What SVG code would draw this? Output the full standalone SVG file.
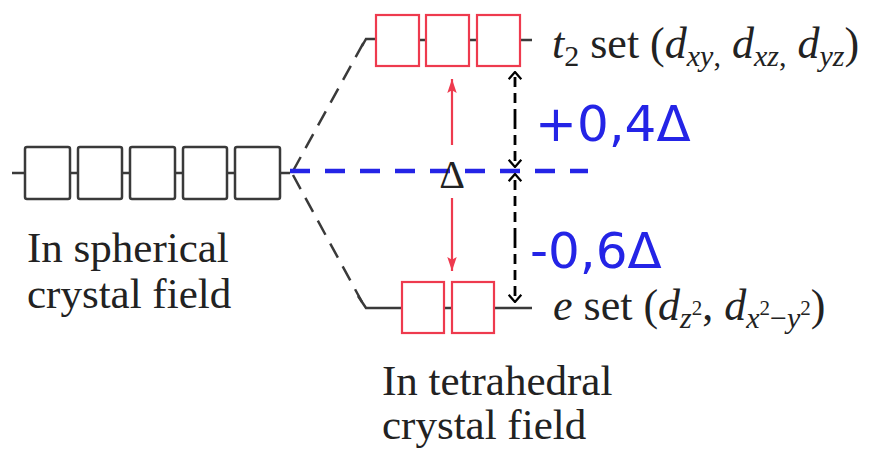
<svg xmlns="http://www.w3.org/2000/svg" width="876" height="459" viewBox="0 0 876 459">
<style>
.blk{fill:#fff;stroke:#3a3a3a;stroke-width:2.5}
.red{fill:#fff;stroke:#ee3a4e;stroke-width:2.2}
.ln{fill:none;stroke:#3a3a3a;stroke-width:2.5}
.dsh{fill:none;stroke:#3a3a3a;stroke-width:2.5;stroke-dasharray:16 10}
.lab{font-family:"Liberation Serif","Times New Roman",serif;font-size:44px;fill:#222}
.big{font-family:"Liberation Serif","Times New Roman",serif;font-size:43px;fill:#222}
.hand{font-family:"DejaVu Sans",sans-serif;font-size:50px;fill:#2424e6}
.i{font-style:italic}
.sb{font-size:30px}
.sp{font-size:21px}
</style>
<defs>
<marker id="redhead" viewBox="0 0 10 14" refX="10" refY="7" markerWidth="14" markerHeight="11" markerUnits="userSpaceOnUse" orient="auto" preserveAspectRatio="none">
<path d="M0,1 L10,7 L0,13 L2,7 Z" fill="#ee3a4e"/>
</marker>
<marker id="chev" viewBox="0 0 10 16" refX="9" refY="8" markerWidth="9" markerHeight="16" markerUnits="userSpaceOnUse" orient="auto">
<path d="M1,1 L9,8 L1,15" fill="none" stroke="#000" stroke-width="2.5"/>
</marker>
</defs>

<g id="connectors">
<path class="dsh" d="M293,171 L365,40"/>
<path class="ln" d="M362,46 L366,39 L376,39"/>
<path class="dsh" d="M293,175 L362,302"/>
<path class="ln" d="M358,296 L366,308 L402,308"/>
<line x1="290" y1="171" x2="588" y2="171" stroke="#2424e6" stroke-width="4.5" stroke-dasharray="20 15"/>
<line x1="452" y1="145" x2="452" y2="79" stroke="#ee3a4e" stroke-width="2.2" marker-end="url(#redhead)"/>
<line x1="452" y1="198" x2="452" y2="271" stroke="#ee3a4e" stroke-width="2.2" marker-end="url(#redhead)"/>
<line x1="515" y1="119" x2="515" y2="72" stroke="#000" stroke-width="2.8" stroke-dasharray="10 6" marker-end="url(#chev)"/>
<line x1="515" y1="119" x2="515" y2="167" stroke="#000" stroke-width="2.8" stroke-dasharray="10 6" marker-end="url(#chev)"/>
<line x1="515" y1="238" x2="515" y2="174" stroke="#000" stroke-width="2.8" stroke-dasharray="10 6" marker-end="url(#chev)"/>
<line x1="515" y1="238" x2="515" y2="302" stroke="#000" stroke-width="2.8" stroke-dasharray="10 6" marker-end="url(#chev)"/>
</g>

<g id="spherical">
<path class="ln" d="M12,173 H290"/>
<rect class="blk" x="25" y="147" width="45" height="52" rx="2"/>
<rect class="blk" x="78" y="147" width="44" height="52" rx="2"/>
<rect class="blk" x="130" y="147" width="45" height="52" rx="2"/>
<rect class="blk" x="183" y="147" width="44" height="52" rx="2"/>
<rect class="blk" x="235" y="147" width="45" height="52" rx="2"/>
<text class="big" x="27" y="262">In spherical</text>
<text class="big" x="27" y="308">crystal field</text>
</g>

<g id="t2">
<path class="ln" d="M376,40 H532"/>
<rect class="red" x="376" y="15" width="43" height="51"/>
<rect class="red" x="426" y="15" width="43" height="51"/>
<rect class="red" x="477" y="15" width="43" height="51"/>
<text class="lab" x="552" y="58"><tspan class="i">t</tspan><tspan class="sb" dy="8">2</tspan><tspan dy="-8"> set (</tspan><tspan class="i">d</tspan><tspan class="i sb" dy="8">xy</tspan><tspan class="sb">,</tspan><tspan dy="-8"> </tspan><tspan class="i">d</tspan><tspan class="i sb" dy="8">xz</tspan><tspan class="sb">,</tspan><tspan dy="-8"> </tspan><tspan class="i">d</tspan><tspan class="i sb" dy="8">yz</tspan><tspan dy="-8">)</tspan></text>
</g>

<g id="e">
<path class="ln" d="M402,308 H532"/>
<rect class="red" x="402" y="282" width="42" height="51"/>
<rect class="red" x="452" y="282" width="42" height="51"/>
<text class="lab" x="553" y="320"><tspan class="i">e</tspan><tspan> set (</tspan><tspan class="i">d</tspan><tspan class="i sb" dy="8">z</tspan><tspan class="sp" dy="-13">2</tspan><tspan dy="5">, </tspan><tspan class="i">d</tspan><tspan class="i sb" dy="8">x</tspan><tspan class="sp" dy="-13">2</tspan><tspan class="sb" dy="13">−</tspan><tspan class="i sb">y</tspan><tspan class="sp" dy="-13">2</tspan><tspan dy="5">)</tspan></text>
</g>

<g id="delta">
<text x="452" y="188" text-anchor="middle" font-family="Liberation Serif, Times New Roman, serif" font-size="40" fill="#222">Δ</text>
</g>

<g id="labels">
<text class="hand" x="535" y="141">+0,4Δ</text>
<text class="hand" x="530" y="268">-0,6Δ</text>
<text class="big" x="382" y="395">In tetrahedral</text>
<text class="big" x="382" y="439">crystal field</text>
</g>
</svg>
